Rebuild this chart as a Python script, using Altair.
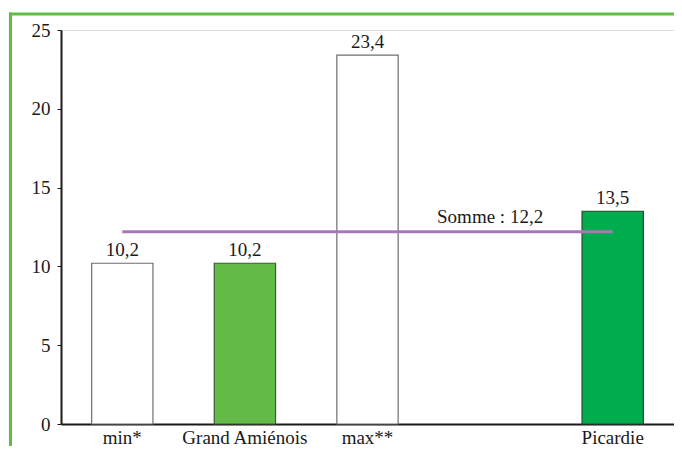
import altair as alt
import pandas as pd

categories = ["min*", "Grand Amiénois", "max**", " ", "Picardie"]
bar_cats = ["min*", "Grand Amiénois", "max**", "Picardie"]
values = [10.2, 10.2, 23.4, 13.5]
fills = ["#ffffff", "#62bb46", "#ffffff", "#00ac4e"]
strokes = ["#6e6e6e", "#3a5a30", "#6e6e6e", "#1f4a2a"]
somme_value = 12.2
somme_label = "Somme : 12,2"
y_ticks = [0, 5, 10, 15, 20, 25]

df = pd.DataFrame({"cat": bar_cats, "v": values, "fill": fills, "stroke": strokes})
FONT = "Liberation Serif"
FS = 19

xscale = alt.Scale(domain=categories, paddingInner=0.5, paddingOuter=0.25)
yscale = alt.Scale(domain=[0, 25], nice=False)

base = alt.Chart(df)

bars = base.mark_bar(strokeWidth=1.2).encode(
    x=alt.X("cat:N", scale=xscale, sort=categories,
            axis=alt.Axis(title=None, labelAngle=0, ticks=False, domainColor="#1a1a1a",
                          domainWidth=2, labelFont=FONT, labelFontSize=FS,
                          labelColor="#1a1a1a", labelPadding=4)),
    y=alt.Y("v:Q", scale=yscale,
            axis=alt.Axis(title=None, values=y_ticks, grid=False, domainColor="#1a1a1a",
                          domainWidth=2, tickColor="#1a1a1a", tickSize=4,
                          labelFont=FONT, labelFontSize=FS, labelColor="#1a1a1a",
                          labelPadding=7)),
    fill=alt.Fill("fill:N", scale=None),
    stroke=alt.Stroke("stroke:N", scale=None),
)

labels = base.transform_calculate(
    lab="replace(format(datum.v, '.1f'), '.', ',')"
).mark_text(font=FONT, fontSize=FS, baseline="alphabetic", dy=-7, color="#1a1a1a").encode(
    x=alt.X("cat:N", scale=xscale, sort=categories),
    y=alt.Y("v:Q", scale=yscale),
    text="lab:N",
)

line_df = pd.DataFrame({"a": ["min*"], "b": ["Picardie"], "y": [somme_value],
                        "mid": [" "], "t": [somme_label]})
line = alt.Chart(line_df).mark_rule(color="#a778b8", strokeWidth=3).encode(
    x=alt.X("a:N", scale=xscale, sort=categories),
    x2="b:N",
    y=alt.Y("y:Q", scale=yscale),
)
line_text = alt.Chart(line_df).mark_text(font=FONT, fontSize=FS, baseline="alphabetic",
                                         dy=-9, color="#1a1a1a").encode(
    x=alt.X("mid:N", scale=xscale, sort=categories),
    y=alt.Y("y:Q", scale=yscale),
    text="t:N",
)

border_df = pd.DataFrame({"k": [0]})
border_top = alt.Chart(border_df).mark_rule(color="#62bb46", strokeWidth=3).encode(
    x=alt.value(-52), x2=alt.value(640), y=alt.value(-16)
)
border_left = alt.Chart(border_df).mark_rule(color="#62bb46", strokeWidth=3).encode(
    x=alt.value(-50.5), y=alt.value(-17.5), y2=alt.value(450)
)

chart = alt.layer(bars, labels, line, line_text, border_top, border_left).properties(
    width=613, height=394,
    autosize=alt.AutoSizeParams(type="none"),
    padding={"left": 53, "top": 22, "right": 0, "bottom": 22},
).configure_view(strokeWidth=0, stroke="transparent").configure(background="white")

chart.save("out.html", embed_options={"renderer": "svg", "actions": False})
